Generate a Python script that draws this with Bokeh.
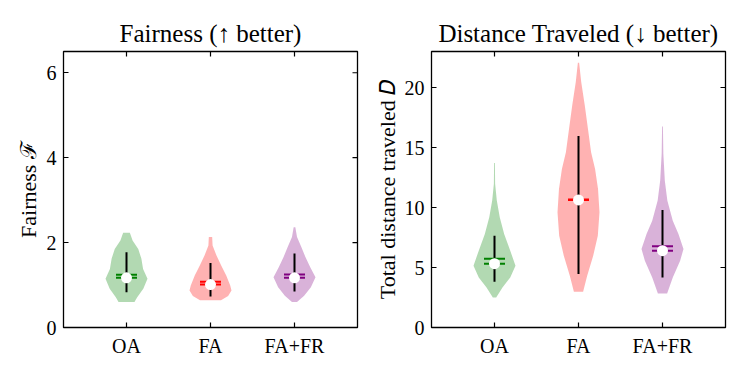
import math
from bokeh.plotting import figure
from bokeh.layouts import row
from bokeh.models import LinearAxis, FixedTicker, Range1d
from bokeh.embed import file_html
from bokeh.resources import INLINE

methods = ["OA", "FA", "FA+FR"]

# Fairness: violin profiles (value, relative density) per method
fair_oa_y = [0.60, 0.71, 0.91, 1.15, 1.38, 1.62, 1.85, 2.05, 2.23]
fair_oa_d = [0.38, 0.51, 0.80, 1.00, 0.79, 0.71, 0.56, 0.29, 0.16]
fair_fa_y = [0.64, 0.74, 0.87, 0.99, 1.225, 1.46, 1.70, 1.93, 2.13]
fair_fa_d = [0.50, 0.84, 1.00, 0.94, 0.75, 0.51, 0.28, 0.10, 0.08]
fair_fr_y = [0.60, 0.75, 0.95, 1.185, 1.42, 1.66, 1.89, 2.13, 2.36]
fair_fr_d = [0.12, 0.46, 0.78, 1.00, 0.75, 0.52, 0.33, 0.12, 0.04]
fair_lo = [0.83, 0.73, 0.85]
fair_hi = [1.77, 1.52, 1.74]
fair_mean = [1.24, 1.08, 1.25]
fair_median = [1.17, 1.01, 1.17]

# Distance traveled
dist_oa_y = [2.50, 3.34, 4.17, 5.15, 6.40, 7.80, 9.18, 10.58, 11.97, 13.70]
dist_oa_d = [0.08, 0.38, 0.75, 1.00, 0.75, 0.46, 0.25, 0.11, 0.03, 0.02]
dist_fa_y = [2.98, 4.30, 5.98, 7.65, 9.60, 11.55, 13.20, 14.60, 16.56, 18.50, 20.45, 22.07]
dist_fa_d = [0.22, 0.41, 0.70, 0.92, 1.00, 0.93, 0.79, 0.60, 0.45, 0.30, 0.13, 0.03]
dist_fr_y = [2.84, 4.17, 5.57, 6.54, 7.80, 8.90, 10.58, 12.25, 14.47, 16.75]
dist_fr_d = [0.22, 0.49, 0.84, 1.00, 0.76, 0.49, 0.23, 0.11, 0.04, 0.02]
dist_lo = [3.81, 4.46, 4.17]
dist_hi = [7.65, 15.95, 9.80]
dist_mean = [5.72, 10.66, 6.77]
dist_median = [5.32, 10.63, 6.40]

fair_ticks = [0, 2, 4, 6]
dist_ticks = [0, 5, 10, 15, 20]

COLORS = ["green", "red", "purple"]
FONT = "Liberation Serif"
XMIN, XMAX = 0.25, 3.75


def make_panel(title, ylabel, yend, yticks, profiles, lo, hi, mean, median,
               border_left, border_right, label_standoff):
    p = figure(frame_width=294, frame_height=276, output_backend="svg",
               toolbar_location=None, x_range=Range1d(XMIN, XMAX),
               y_range=Range1d(0, yend), min_border_left=border_left,
               min_border_right=border_right, min_border_top=51,
               min_border_bottom=35, x_axis_location=None, y_axis_location=None)
    p.title.text = title
    p.title.align = "center"
    p.title.text_font = FONT
    p.title.text_font_size = "25px"
    p.title.text_font_style = "normal"
    p.title.text_color = "black"
    p.title.standoff = 10
    p.xgrid.visible = False
    p.ygrid.visible = False
    p.outline_line_color = "black"
    p.outline_line_width = 1.3
    p.outline_line_alpha = 1.0
    p.background_fill_color = "white"
    p.border_fill_color = "white"

    pos = [1, 2, 3]
    for loc, tk in [("below", FixedTicker(ticks=pos)), ("left", FixedTicker(ticks=yticks))]:
        ax = LinearAxis(ticker=tk)
        ax.axis_line_color = None
        ax.major_tick_in = 5
        ax.major_tick_out = 0
        ax.major_tick_line_color = "black"
        ax.major_tick_line_width = 1.2
        ax.minor_tick_line_color = None
        ax.major_label_text_font = FONT
        ax.major_label_text_font_size = "20px"
        ax.major_label_text_color = "black"
        ax.major_label_standoff = 7
        if loc == "below":
            ax.major_label_overrides = {i + 1: m for i, m in enumerate(methods)}
        else:
            ax.axis_label = ylabel
            ax.axis_label_text_font = FONT
            ax.axis_label_text_font_size = "22px"
            ax.axis_label_text_font_style = "normal"
            ax.axis_label_text_color = "black"
            ax.axis_label_standoff = label_standoff
        p.add_layout(ax, loc)

    for i, (ys, ds) in enumerate(profiles):
        c = pos[i]
        p.harea(y=ys, x1=[c - 0.25 * d for d in ds], x2=[c + 0.25 * d for d in ds],
                fill_color=COLORS[i], fill_alpha=0.3)
    p.segment(x0=pos, y0=lo, x1=pos, y1=hi, line_color="black", line_width=2)
    p.segment(x0=[c - 0.125 for c in pos], x1=[c + 0.125 for c in pos],
              y0=mean, y1=mean, line_color=COLORS, line_width=2)
    p.segment(x0=[c - 0.125 for c in pos], x1=[c + 0.125 for c in pos],
              y0=median, y1=median, line_color=COLORS, line_width=2)
    p.scatter(x=pos, y=median, size=11, fill_color="white", line_color=None)

    # mirrored inward ticks on the top and right edges (clipped to frame)
    p.scatter(x=pos, y=[yend] * len(pos), marker="dash", angle=math.pi / 2,
              size=10, line_color="black", line_width=1.2)
    p.scatter(x=[XMAX] * len(yticks), y=yticks, marker="dash", size=10,
              line_color="black", line_width=1.2)
    return p


p1 = make_panel("Fairness (\u2191 better)", "Fairness \u2131", 6.5, fair_ticks,
                [(fair_oa_y, fair_oa_d), (fair_fa_y, fair_fa_d), (fair_fr_y, fair_fr_d)],
                fair_lo, fair_hi, fair_mean, fair_median, 63, 14, 3)
p2 = make_panel("Distance Traveled (\u2193 better)", "Total distance traveled \U0001D437",
                23, dist_ticks,
                [(dist_oa_y, dist_oa_d), (dist_fa_y, dist_fa_d), (dist_fr_y, dist_fr_d)],
                dist_lo, dist_hi, dist_mean, dist_median, 54, 10, 2)

layout = row(p1, p2)
open("out.html", "w").write(file_html(layout, INLINE))
